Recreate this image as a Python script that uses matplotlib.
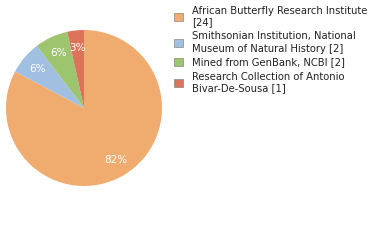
import matplotlib
matplotlib.use("Agg")
import matplotlib.pyplot as plt
import math

labels = ["African Butterfly Research Institute\n[24]",
          "Smithsonian Institution, National\nMuseum of Natural History [2]",
          "Mined from GenBank, NCBI [2]",
          "Research Collection of Antonio\nBivar-De-Sousa [1]"]
values = [24, 2, 2, 1]
colors = ["#f0ac6f", "#a1bfe1", "#9dc46f", "#de735b"]

fig = plt.figure(figsize=(3.8, 2.4), dpi=100)
ax = fig.add_axes([6/380, 54/240, 156/380, 156/240])
wedges, texts, autotexts = ax.pie(
    values, colors=colors, startangle=90, counterclock=False,
    autopct=lambda p: f"{int(math.floor(p + 1e-9))}%", pctdistance=0.78,
    textprops=dict(color="white", fontsize=7.5, family="DejaVu Sans"))
ax.set_xlim(-1, 1)
ax.set_ylim(-1, 1)
ax.set_aspect("equal")

leg = fig.legend(wedges, labels, loc="upper left", bbox_to_anchor=(168/380, 1.0),
                 frameon=False, fontsize=7.2, handlelength=0.9, handleheight=0.9,
                 handletextpad=1.0, labelspacing=0.4, borderaxespad=0.15)
for t in leg.get_texts():
    t.set_color("#222222")
    t.set_linespacing(1.25)
for h in leg.legend_handles:
    h.set_edgecolor("#888888")
    h.set_linewidth(0.5)

fig.savefig("out.png", dpi=100)
